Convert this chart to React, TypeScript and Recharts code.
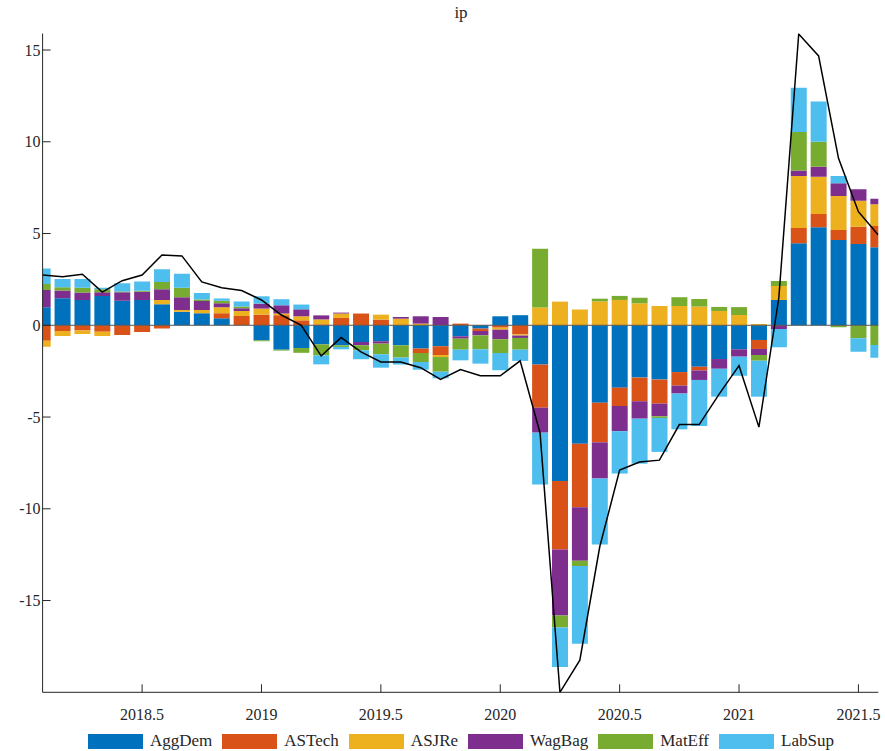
import { ComposedChart, Bar, Line, XAxis, YAxis, ReferenceLine } from 'recharts'

// monthly observations, Feb 2018 .. Aug 2021
const dates = [
  2018.0833, 2018.1667, 2018.25, 2018.3333, 2018.4167, 2018.5, 2018.5833, 2018.6667, 2018.75, 2018.8333, 2018.9167,
  2019.0, 2019.0833, 2019.1667, 2019.25, 2019.3333, 2019.4167, 2019.5, 2019.5833, 2019.6667, 2019.75, 2019.8333, 2019.9167,
  2020.0, 2020.0833, 2020.1667, 2020.25, 2020.3333, 2020.4167, 2020.5, 2020.5833, 2020.6667, 2020.75, 2020.8333, 2020.9167,
  2021.0, 2021.0833, 2021.1667, 2021.25, 2021.3333, 2021.4167, 2021.5, 2021.5833,
]

const aggDem = [
  0.98, 1.47, 1.38, 1.6, 1.34, 1.38, 1.14, 0.74, 0.65, 0.38, 0,
  -0.82, -1.33, -1.24, -1.04, -1.09, -0.91, -0.87, -1.09, -1.27, -1.14, -0.6, -0.18,
  0.49, 0.55, -2.14, -8.49, -6.45, -4.22, -3.4, -2.85, -2.96, -2.55, -2.26, -1.84,
  -1.31, -0.8, 1.38, 4.47, 5.34, 4.65, 4.43, 4.25,
]
const asTech = [
  -0.84, -0.31, -0.29, -0.35, -0.53, -0.36, -0.18, 0, 0, 0.27, 0.51,
  0.58, 0.55, 0.27, 0.05, 0.4, 0.64, 0.31, 0, -0.24, -0.48, 0.09, -0.13,
  -0.13, -0.49, -2.35, -3.73, -3.47, -2.16, -1.0, -1.29, -1.31, -0.74, -0.2, 0,
  0, -0.49, 0, 0.83, 0.73, 0.54, 0.94, 1.16,
]
const asJRe = [
  -0.33, -0.27, -0.18, -0.23, 0, 0, 0.24, 0.09, 0.18, 0.33, 0.27,
  0.33, 0.09, 0.22, 0.27, 0.24, 0, 0.27, 0.36, 0.09, -0.11, 0, 0,
  -0.11, -0.07, 0.97, 1.29, 0.86, 1.3, 1.38, 1.2, 1.05, 1.05, 1.02, 0.78,
  0.56, 0.07, 0.76, 2.84, 2.02, 1.86, 1.42, 1.18,
]
const wagBag = [
  0.94, 0.42, 0.4, 0.2, 0.46, 0.45, 0.58, 0.7, 0.49, 0.22, 0.15,
  0.27, 0.45, 0.38, 0.22, 0.05, -0.18, -0.13, 0.09, 0.4, 0.45, -0.13, -0.24,
  -0.52, -0.13, -1.36, -3.6, -2.91, -1.97, -1.37, -0.95, -0.69, -0.43, -0.52, -0.53,
  -0.4, -0.33, -0.2, 0.29, 0.55, 0.69, 0.62, 0.31,
]
const matEff = [
  0.33, 0.18, 0.27, 0.16, 0.04, 0.05, 0.4, 0.52, 0.09, 0.13, 0.09,
  -0.05, -0.05, -0.26, -0.6, -0.09, -0.27, -0.58, -0.67, -0.49, -0.8, -0.6, -0.76,
  -0.75, -0.64, 3.2, -0.65, -0.29, 0.15, 0.22, 0.3, -0.09, 0.48, 0.41, 0.22,
  0.43, -0.31, 0.27, 2.1, 1.36, -0.11, -0.71, -1.07,
]
const labSup = [
  0.85, 0.45, 0.47, 0.09, 0.45, 0.5, 0.69, 0.76, 0.35, 0.13, 0.27,
  0.4, 0.33, 0.26, -0.49, -0.13, -0.49, -0.73, -0.38, -0.42, -0.36, -0.58, -0.78,
  -0.94, -0.61, -2.83, -2.15, -4.23, -3.6, -2.31, -2.45, -1.85, -1.95, -2.51, -1.52,
  -1.04, -1.96, -1.0, 2.42, 2.19, 0.4, -0.73, -0.7,
]
const ip = [
  2.74, 2.65, 2.78, 1.81, 2.43, 2.74, 3.83, 3.78, 2.36, 2.05, 1.89,
  1.38, 0.56, 0.0, -1.67, -0.67, -1.45, -2.0, -2.0, -2.31, -2.95, -2.41, -2.75,
  -2.75, -1.94, -5.87, -20.0, -18.25, -12.07, -7.89, -7.45, -7.35, -5.41, -5.41, -3.75,
  -2.2, -5.55, 1.5, 15.87, 14.68, 9.1, 6.19, 4.92,
]

const xTicks = [2018.5, 2019, 2019.5, 2020, 2020.5, 2021, 2021.5]
const yTicks = [-15, -10, -5, 0, 5, 10, 15]

const series = [
  { name: 'AggDem', values: aggDem, color: '#0072BD' },
  { name: 'ASTech', values: asTech, color: '#D95319' },
  { name: 'ASJRe', values: asJRe, color: '#EDB120' },
  { name: 'WagBag', values: wagBag, color: '#7E2F8E' },
  { name: 'MatEff', values: matEff, color: '#77AC30' },
  { name: 'LabSup', values: labSup, color: '#4DBEEE' },
]

const data = dates.map((date, i) => {
  const row: Record<string, number> = { date, ip: ip[i] }
  series.forEach((s) => {
    row[s.name] = s.values[i]
  })
  return row
})

const FONT = '"Liberation Serif", "DejaVu Serif", serif'
const INK = '#262626'

function XTick({ x, y, payload }: any) {
  return (
    <text x={x} y={y + 22} dy="0.71em" textAnchor="middle" fill={INK} fontSize={16} fontFamily={FONT}>
      {String(payload.value)}
    </text>
  )
}

function YTick({ x, y, payload }: any) {
  return (
    <text x={x + 8 - 16} y={y} dy="0.355em" textAnchor="end" fill={INK} fontSize={16} fontFamily={FONT}>
      {String(payload.value)}
    </text>
  )
}

export default function App() {
  return (
    <div
      style={{
        position: 'absolute',
        left: 0,
        top: 0,
        width: 885,
        height: 751,
        background: '#fff',
        fontFamily: FONT,
        color: INK,
      }}
    >
      <div style={{ position: 'absolute', left: 43, width: 836, top: 3, textAlign: 'center', fontSize: 17 }}>
        ip
      </div>

      <ComposedChart
        width={885}
        height={751}
        data={data}
        stackOffset="sign"
        margin={{ top: 33.5, right: 6.7, left: 0, bottom: 0 }}
      >
        <XAxis
          dataKey="date"
          type="number"
          domain={[2018.0833, 2021.5833]}
          ticks={xTicks}
          interval={0}
          allowDataOverflow
          height={58.7}
          tickSize={-8}
          stroke={INK}
          tick={<XTick />}
        />
        <YAxis
          type="number"
          domain={[-20, 15.9]}
          ticks={yTicks}
          interval={0}
          allowDataOverflow
          width={42.6}
          tickSize={-8}
          stroke={INK}
          tick={<YTick />}
        />
        {series.map((s) => (
          <Bar
            key={s.name}
            dataKey={s.name}
            stackId="hd"
            fill={s.color}
            barSize={16}
            isAnimationActive={false}
          />
        ))}
        <ReferenceLine y={0} stroke="#555" strokeWidth={1} />
        <Line
          type="linear"
          dataKey="ip"
          stroke="#000"
          strokeWidth={1.5}
          dot={false}
          activeDot={false}
          isAnimationActive={false}
        />
      </ComposedChart>

      <div
        style={{
          position: 'absolute',
          left: 88,
          top: 731,
          display: 'flex',
          alignItems: 'center',
          fontSize: 17,
        }}
      >
        {series.map((s) => (
          <div key={s.name} style={{ display: 'flex', alignItems: 'center', marginRight: 10 }}>
            <div style={{ width: 55, height: 15, background: s.color, marginRight: 7 }} />
            <span>{s.name}</span>
          </div>
        ))}
      </div>
    </div>
  )
}
